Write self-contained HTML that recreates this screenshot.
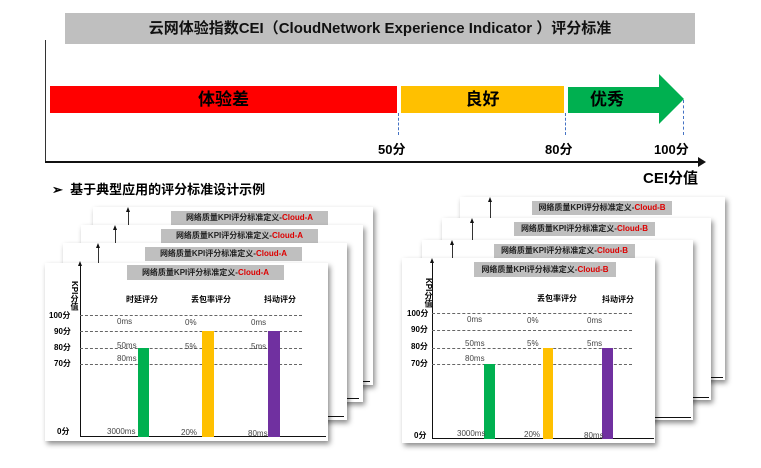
<!DOCTYPE html>
<html><head><meta charset="utf-8"><style>
body{margin:0;width:761px;height:468px;background:#fff;position:relative;overflow:hidden;font-family:"Liberation Sans","Noto Sans CJK SC",sans-serif;}
.a{position:absolute;}
.b{font-weight:bold;}
.card{position:absolute;background:#fff;box-shadow:2px 3px 5px rgba(0,0,0,.45);}
.tt{position:absolute;background:#bfbfbf;font-size:8px;font-weight:bold;color:#222;text-align:center;white-space:nowrap;}
.tt span{color:#d00;}
.s{font-size:8px;color:#444;position:absolute;white-space:nowrap;}
.yl{font-size:8px;font-weight:bold;position:absolute;white-space:nowrap;}
.g{position:absolute;border-top:1px dashed #666;height:0;}
.ar{position:absolute;width:0;height:0;border-bottom:5px solid #111;border-left:2px solid transparent;border-right:2px solid transparent;}
.bl{position:absolute;height:1px;background:#111;}
</style></head><body>
<div class="a" style="left:65px;top:13px;width:630px;height:31px;background:#bfbfbf;font-size:15px;font-weight:bold;line-height:31px;text-align:center;color:#111;">云网体验指数CEI（CloudNetwork Experience Indicator ）评分标准</div>
<div class="a" style="left:45px;top:40px;width:1px;height:122px;background:#333"></div>
<div class="a" style="left:45px;top:161px;width:655px;height:1.5px;background:#111"></div>
<div class="a" style="left:698px;top:157px;width:0;height:0;border-left:8px solid #111;border-top:5px solid transparent;border-bottom:5px solid transparent"></div>
<div class="a b" style="left:50px;top:86px;width:347px;height:27px;background:#f00;font-size:17px;line-height:27px;text-align:center">体验差</div>
<div class="a b" style="left:401px;top:86px;width:163px;height:27px;background:#ffc000;font-size:17px;line-height:27px;text-align:center">良好</div>
<div class="a" style="left:568px;top:87px;width:92px;height:26px;background:#00b050"></div>
<div class="a" style="left:659px;top:74px;width:0;height:0;border-left:25px solid #00b050;border-top:25px solid transparent;border-bottom:25px solid transparent"></div>
<div class="a b" style="left:590px;top:87px;font-size:17px;line-height:26px">优秀</div>
<div class="a" style="left:398px;top:113px;height:22px;border-left:1px dashed #4472c4"></div>
<div class="a" style="left:565px;top:113px;height:22px;border-left:1px dashed #4472c4"></div>
<div class="a" style="left:683px;top:100px;height:35px;border-left:1px dashed #4472c4"></div>
<div class="a b" style="left:378px;top:139px;font-size:13px">50分</div>
<div class="a b" style="left:545px;top:139px;font-size:13px">80分</div>
<div class="a b" style="left:654px;top:139px;font-size:13px">100分</div>
<div class="a b" style="left:643px;top:167px;font-size:15px">CEI分值</div>
<div class="a b" style="left:52px;top:179px;font-size:13px">➢&nbsp;&nbsp;基于典型应用的评分标准设计示例</div>

<!-- left stack -->
<div class="card" style="left:93px;top:207px;width:280px;height:178px"><div class="tt" style="left:78px;top:4px;width:157px;height:14px;line-height:14px">网络质量KPI评分标准定义-<span>Cloud-A</span></div><div class="a" style="left:35px;top:4px;width:1px;height:174px;background:#333"></div><div class="ar" style="left:33px;top:0"></div><div class="bl" style="left:35px;top:174px;width:242px"></div></div>
<div class="card" style="left:81px;top:225px;width:282px;height:177px"><div class="tt" style="left:80px;top:4px;width:157px;height:14px;line-height:14px">网络质量KPI评分标准定义-<span>Cloud-A</span></div><div class="a" style="left:34px;top:4px;width:1px;height:173px;background:#333"></div><div class="ar" style="left:32px;top:0"></div><div class="bl" style="left:34px;top:173px;width:244px"></div></div>
<div class="card" style="left:63px;top:243px;width:284px;height:177px"><div class="tt" style="left:82px;top:4px;width:157px;height:14px;line-height:14px">网络质量KPI评分标准定义-<span>Cloud-A</span></div><div class="a" style="left:35px;top:4px;width:1px;height:173px;background:#333"></div><div class="ar" style="left:33px;top:0"></div><div class="bl" style="left:35px;top:173px;width:246px"></div></div>
<div class="card" style="left:45px;top:263px;width:283px;height:178px">
<div class="tt" style="left:82px;top:2px;width:157px;height:15px;line-height:15px">网络质量KPI评分标准定义-<span>Cloud-A</span></div>
<div class="a" style="left:35px;top:2px;width:1px;height:172px;background:#111"></div><div class="ar" style="left:33px;top:-2px"></div>
<div class="a" style="left:35px;top:173px;width:246px;height:1px;background:#111"></div>
<div class="yl" style="left:24px;top:18px;writing-mode:vertical-rl">KPI分值</div>
<div class="yl" style="left:81px;top:31px">时延评分</div><div class="yl" style="left:146px;top:31px">丢包率评分</div><div class="yl" style="left:219px;top:31px">抖动评分</div>
<div class="g" style="left:35px;top:52px;width:222px"></div><div class="g" style="left:35px;top:68px;width:222px"></div><div class="g" style="left:35px;top:85px;width:222px"></div><div class="g" style="left:35px;top:101px;width:222px"></div>
<div class="yl" style="left:4px;top:47px">100分</div><div class="yl" style="left:9px;top:63px">90分</div><div class="yl" style="left:9px;top:79px">80分</div><div class="yl" style="left:9px;top:95px">70分</div><div class="yl" style="left:12px;top:163px">0分</div>
<div class="a" style="left:93px;top:85px;width:11px;height:89px;background:#00b050"></div>
<div class="a" style="left:157px;top:68px;width:12px;height:106px;background:#ffc000"></div>
<div class="a" style="left:223px;top:68px;width:12px;height:106px;background:#7030a0"></div>
<div class="s" style="left:72px;top:54px">0ms</div><div class="s" style="left:72px;top:78px">50ms</div><div class="s" style="left:72px;top:91px">80ms</div><div class="s" style="left:62px;top:164px">3000ms</div>
<div class="s" style="left:140px;top:55px">0%</div><div class="s" style="left:140px;top:79px">5%</div><div class="s" style="left:136px;top:165px">20%</div>
<div class="s" style="left:206px;top:55px">0ms</div><div class="s" style="left:206px;top:79px">5ms</div><div class="s" style="left:203px;top:166px">80ms</div>
</div>

<!-- right stack -->
<div class="card" style="left:460px;top:197px;width:265px;height:183px"><div class="tt" style="left:72px;top:4px;width:140px;height:14px;line-height:14px">网络质量KPI评分标准定义-<span>Cloud-B</span></div><div class="a" style="left:30px;top:4px;width:1px;height:179px;background:#333"></div><div class="ar" style="left:28px;top:0"></div><div class="bl" style="left:30px;top:180px;width:233px"></div></div>
<div class="card" style="left:442px;top:218px;width:269px;height:182px"><div class="tt" style="left:72px;top:4px;width:141px;height:14px;line-height:14px">网络质量KPI评分标准定义-<span>Cloud-B</span></div><div class="a" style="left:30px;top:4px;width:1px;height:178px;background:#333"></div><div class="ar" style="left:28px;top:0"></div><div class="bl" style="left:30px;top:179px;width:237px"></div></div>
<div class="card" style="left:422px;top:240px;width:271px;height:180px"><div class="tt" style="left:72px;top:4px;width:141px;height:14px;line-height:14px">网络质量KPI评分标准定义-<span>Cloud-B</span></div><div class="a" style="left:30px;top:4px;width:1px;height:176px;background:#333"></div><div class="ar" style="left:28px;top:0"></div><div class="bl" style="left:30px;top:177px;width:239px"></div></div>
<div class="card" style="left:402px;top:258px;width:253px;height:185px">
<div class="tt" style="left:72px;top:4px;width:142px;height:15px;line-height:15px">网络质量KPI评分标准定义-<span>Cloud-B</span></div>
<div class="a" style="left:30px;top:4px;width:1px;height:176px;background:#111"></div><div class="ar" style="left:28px;top:0"></div>
<div class="a" style="left:30px;top:180px;width:222px;height:1px;background:#111"></div>
<div class="yl" style="left:21px;top:20px;writing-mode:vertical-rl">KPI分值</div>
<div class="yl" style="left:135px;top:35px">丢包率评分</div><div class="yl" style="left:200px;top:36px">抖动评分</div>
<div class="g" style="left:30px;top:55px;width:200px"></div><div class="g" style="left:30px;top:72px;width:200px"></div><div class="g" style="left:30px;top:90px;width:200px"></div><div class="g" style="left:30px;top:106px;width:200px"></div>
<div class="yl" style="left:5px;top:50px">100分</div><div class="yl" style="left:9px;top:66px">90分</div><div class="yl" style="left:9px;top:83px">80分</div><div class="yl" style="left:9px;top:100px">70分</div><div class="yl" style="left:12px;top:172px">0分</div>
<div class="a" style="left:82px;top:106px;width:11px;height:75px;background:#00b050"></div>
<div class="a" style="left:141px;top:90px;width:10px;height:91px;background:#ffc000"></div>
<div class="a" style="left:200px;top:90px;width:11px;height:91px;background:#7030a0"></div>
<div class="s" style="left:65px;top:57px">0ms</div><div class="s" style="left:63px;top:81px">50ms</div><div class="s" style="left:63px;top:96px">80ms</div><div class="s" style="left:55px;top:171px">3000ms</div>
<div class="s" style="left:125px;top:58px">0%</div><div class="s" style="left:125px;top:81px">5%</div><div class="s" style="left:122px;top:172px">20%</div>
<div class="s" style="left:185px;top:58px">0ms</div><div class="s" style="left:185px;top:81px">5ms</div><div class="s" style="left:182px;top:173px">80ms</div>
</div>
</body></html>
